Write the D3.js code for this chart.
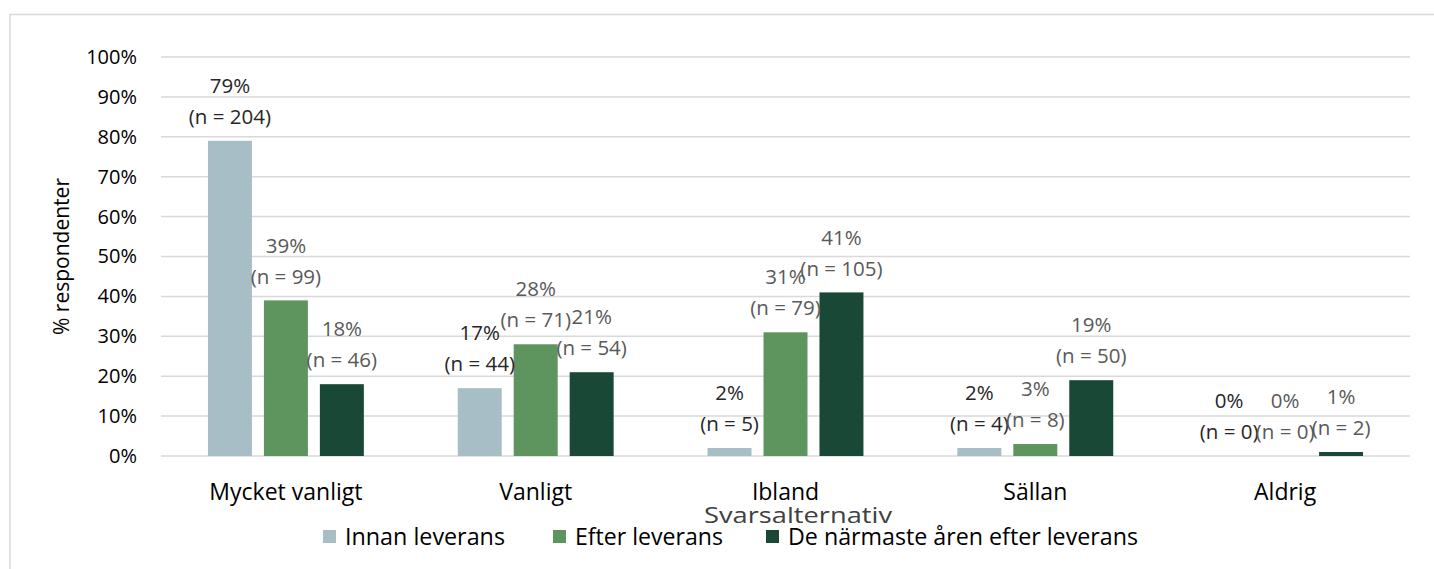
<!DOCTYPE html>
<html>
<head>
<meta charset="utf-8">
<script src="https://cdn.jsdelivr.net/npm/d3@7"></script>
<style>
  html, body { margin: 0; padding: 0; background: #fff; }
  svg { display: block; font-family: "Open Sans", Lato, sans-serif; }
</style>
</head>
<body>
<svg id="chart" width="1434" height="569"></svg>
<script>
// Response categories along the x axis
const categories = ["Mycket vanligt", "Vanligt", "Ibland", "Sällan", "Aldrig"];
// Series (time frames)
const seriesNames = ["Innan leverans", "Efter leverans", "De närmaste åren efter leverans"];
// Share of respondents (%) per category, one array per series
const innanPct  = [79, 17, 2, 2, 0];
const efterPct  = [39, 28, 31, 3, 0];
const narmPct   = [18, 21, 41, 19, 1];
// Number of respondents per category
const innanN = [204, 44, 5, 4, 0];
const efterN = [99, 71, 79, 8, 0];
const narmN  = [46, 54, 105, 50, 2];
// Y axis ticks
const yTicks = [0, 10, 20, 30, 40, 50, 60, 70, 80, 90, 100];

const seriesPct = [innanPct, efterPct, narmPct];
const seriesN = [innanN, efterN, narmN];
const colors = ["#a8bec6", "#5e945e", "#1a4836"];
const labelColors = ["#262626", "#595959", "#595959"];
const font = "'Open Sans', sans-serif";

const svg = d3.select("#chart");

// Outer frame (open towards the right and bottom edges of the page)
svg.append("path")
  .attr("d", "M10,575 V14.5 H1440")
  .attr("fill", "none").attr("stroke", "#d9d9d9").attr("stroke-width", 1.5);

const plot = { left: 161, right: 1410, top: 57, bottom: 456 };

const x = d3.scaleBand().domain(categories).range([plot.left, plot.right]);
const xs = d3.scaleBand().domain(seriesNames).range([0, x.bandwidth()])
  .paddingInner(0.214).paddingOuter(0.839);
const y = d3.scaleLinear().domain([0, 100]).range([plot.bottom, plot.top]);

// Gridlines
svg.append("g").selectAll("line").data(yTicks).join("line")
  .attr("x1", plot.left).attr("x2", plot.right)
  .attr("y1", d => y(d)).attr("y2", d => y(d))
  .attr("stroke", "#d9d9d9").attr("stroke-width", 1.5);

// Y axis tick labels
const yAxis = svg.append("g")
  .attr("transform", `translate(${plot.left - 24},0)`)
  .call(d3.axisLeft(y).tickValues(yTicks).tickFormat(d => d + "%").tickSize(0).tickPadding(0));
yAxis.select(".domain").remove();
yAxis.selectAll("text")
  .attr("font-family", font)
  .attr("font-size", 20).attr("fill", "#000");

// Bars
const groups = svg.append("g").selectAll("g").data(seriesNames).join("g")
  .attr("fill", (d, i) => colors[i]);

groups.each(function(s, si) {
  const g = d3.select(this);
  g.selectAll("rect").data(categories).join("rect")
    .attr("x", c => x(c) + xs(s))
    .attr("width", xs.bandwidth())
    .attr("y", (c, ci) => y(seriesPct[si][ci]))
    .attr("height", (c, ci) => y(0) - y(seriesPct[si][ci]));
});

// Data labels: percentage and respondent count
const labels = svg.append("g").attr("font-family", font)
  .attr("font-size", 20.5).attr("text-anchor", "middle");
seriesNames.forEach((s, si) => {
  categories.forEach((c, ci) => {
    const cx = x(c) + xs(s) + xs.bandwidth() / 2;
    const top = y(seriesPct[si][ci]);
    labels.append("text")
      .attr("x", cx).attr("y", top - 55).attr("dy", "0.35em")
      .attr("fill", labelColors[si])
      .text(seriesPct[si][ci] + "%");
    labels.append("text")
      .attr("x", cx).attr("y", top - 24).attr("dy", "0.35em")
      .attr("fill", labelColors[si])
      .text("(n = " + seriesN[si][ci] + ")");
  });
});

// X axis category labels
const xAxis = svg.append("g")
  .attr("transform", `translate(0,${plot.bottom + 36})`)
  .call(d3.axisBottom(x).tickSize(0).tickPadding(0));
xAxis.select(".domain").remove();
xAxis.selectAll("text")
  .attr("font-family", font)
  .attr("font-size", 23).attr("fill", "#000").attr("dy", "0.35em");

// Axis titles
svg.append("text")
  .attr("x", 798).attr("y", 516).attr("dy", "0.35em")
  .attr("text-anchor", "middle").attr("font-size", 21).attr("fill", "#404040")
  .attr("textLength", 188).attr("lengthAdjust", "spacingAndGlyphs")
  .text("Svarsalternativ");

svg.append("text")
  .attr("transform", `translate(62,${(plot.top + plot.bottom) / 2}) rotate(-90)`)
  .attr("dy", "0.35em").attr("text-anchor", "middle")
  .attr("font-size", 21).attr("fill", "#000")
  .text("% respondenter");

// Legend
const legendX = [323, 553, 766];
const legendW = [160, 148, 350];
const legend = svg.append("g");
seriesNames.forEach((s, i) => {
  legend.append("rect")
    .attr("x", legendX[i]).attr("y", 530).attr("width", 13).attr("height", 13)
    .attr("fill", colors[i]);
  legend.append("text")
    .attr("x", legendX[i] + 22).attr("y", 537).attr("dy", "0.35em")
    .attr("font-size", 24).attr("fill", "#000")
    .attr("textLength", legendW[i]).attr("lengthAdjust", "spacingAndGlyphs")
    .text(s);
});
</script>
</body>
</html>
